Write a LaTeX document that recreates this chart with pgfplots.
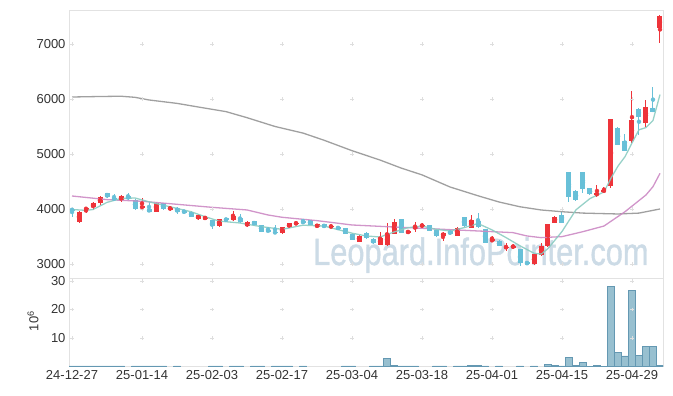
\documentclass[border=0pt]{standalone}
\usepackage{pgfplots}
\pgfplotsset{compat=1.18}
\usepackage{pgfplotstable}
\usepackage{fontspec}
\setmainfont{Liberation Sans}
\newfontfamily\wmfont[FakeBold=1.2]{Liberation Sans}
\definecolor{upred}{RGB}{238,52,58}
\definecolor{dnblue}{RGB}{104,192,216}
\definecolor{volfill}{RGB}{152,192,208}
\definecolor{voledge}{RGB}{100,152,178}
\definecolor{framegray}{RGB}{226,226,226}
\definecolor{crossgray}{RGB}{222,222,222}
\definecolor{labelgray}{RGB}{51,51,51}
\definecolor{wmark}{RGB}{204,219,230}
\definecolor{magray}{RGB}{150,150,150}
\definecolor{mapink}{RGB}{204,138,196}
\definecolor{mateal}{RGB}{140,204,194}

\pgfplotstableread{
i o h l c
1 3769 3960 3740 3951
2 3995 4024 3922 4013
3 4031 4127 3982 4115
4 4103 4227 4073 4212
7 4164 4254 4127 4236
10 4013 4200 4000 4055
12 3951 4127 3945 4115
14 3982 4055 3964 4042
18 3813 3900 3800 3891
19 3813 3873 3800 3860
21 3682 3824 3673 3811
23 3791 3969 3782 3873
25 3682 3773 3664 3764
30 3570 3673 3540 3667
31 3667 3745 3655 3740
32 3735 3769 3709 3745
35 3667 3733 3655 3722
37 3673 3700 3664 3691
41 3406 3518 3400 3509
44 3345 3587 3336 3467
45 3336 3751 3327 3558
46 3545 3815 3536 3758
48 3558 3613 3550 3605
49 3631 3769 3588 3691
50 3678 3751 3649 3715
53 3500 3576 3409 3570
55 3515 3667 3509 3661
57 3660 3885 3655 3800
60 3415 3515 3409 3445
62 3298 3376 3242 3308
63 3310 3358 3273 3320
66 2991 3182 2982 3176
67 3158 3387 3145 3327
68 3318 3727 3309 3722
69 3751 3864 3745 3855
75 4255 4436 4218 4285
76 4322 4394 4309 4336
77 4424 5645 4376 5636
80 5242 6145 5194 5618
82 5558 5982 5497 5848
84 7285 7518 7012 7509
}\up

\pgfplotstableread{
i o h l c
0 4000 4040 3850 3970
5 4285 4290 4200 4224
6 4195 4267 4164 4176
8 4236 4296 4164 4182
9 4164 4173 3990 3995
11 3995 4133 3940 3951
13 4103 4109 3990 3995
15 4024 4036 3909 3951
16 3969 3982 3918 3933
17 3951 3964 3845 3860
20 3791 3800 3631 3682
22 3827 3836 3773 3791
24 3834 3909 3745 3755
26 3776 3782 3700 3715
27 3704 3709 3582 3587
28 3618 3678 3576 3587
29 3587 3709 3545 3558
33 3773 3824 3736 3745
34 3791 3800 3709 3715
36 3718 3727 3655 3667
38 3678 3691 3618 3631
39 3649 3655 3536 3545
40 3545 3555 3427 3436
42 3564 3573 3455 3467
43 3455 3464 3364 3373
47 3815 3818 3555 3564
51 3700 3709 3600 3606
52 3618 3627 3495 3504
54 3606 3613 3527 3536
56 3845 3849 3678 3685
58 3787 3927 3660 3667
59 3627 3636 3376 3385
61 3418 3427 3318 3333
64 3267 3273 2970 3012
65 3042 3049 2982 2994
70 3891 3951 3742 3751
71 4667 4673 4133 4224
72 4318 4345 4145 4155
73 4667 4673 4285 4364
74 4376 4382 4255 4267
78 5479 5491 5155 5164
79 5236 5364 5051 5061
81 5818 5827 5345 5678
83 5830 6212 5764 5770
}\down

\pgfplotstableread{
i v
0 0.2
1 0.2
2 0.2
3 0.2
4 0.2
5 0.2
6 0.2
7 0.2
9 0.2
10 0.2
11 0.2
12 0.2
13 0.2
15 0.2
20 0.2
21 0.2
23 0.2
24 0.2
26 0.2
27 0.2
29 0.2
30 0.2
31 0.2
33 0.2
39 0.2
40 0.2
43 0.2
44 0.2
45 2.9
46 0.4
47 0.2
48 0.2
49 0.2
52 0.2
53 0.2
55 0.2
56 0.2
57 0.4
58 0.4
59 0.2
61 0.2
64 0.2
66 0.2
68 0.8
69 0.4
70 0.2
71 3.2
72 0.4
73 1.5
74 0.1
75 0.4
76 0.1
77 28.2
78 5.0
79 3.7
80 26.8
81 4.0
82 7.1
83 7.1
84 0.4
}\vol

\pgfplotstableread{
i m
0 6036
4 6045
7 6050
9 6030
11 5982
15 5920
18 5855
22 5770
25 5660
29 5500
33 5380
36 5250
40 5060
44 4890
47 4745
50 4620
54 4400
58 4240
61 4127
64 4040
67 3982
70 3950
73 3925
78 3909
81 3925
84 4000
}\magr

\pgfplotstableread{
i m
0 4236
5 4170
10 4140
15 4085
20 4030
25 3982
28 3891
30 3849
35 3788
40 3709
45 3678
50 3649
55 3618
60 3588
63 3570
65 3509
67 3479
70 3497
73 3588
76 3690
79 3950
82 4255
83 4406
84 4648
}\mapk

\pgfplotstableread{
i m
0 3990
2 3975
3 3990
5 4120
7 4190
9 4200
11 4130
13 4070
15 4010
17 3950
19 3860
21 3780
24 3745
27 3680
30 3630
33 3705
36 3690
40 3560
42 3510
44 3490
46 3580
48 3660
50 3690
52 3630
54 3600
56 3660
58 3735
60 3620
62 3480
64 3330
66 3195
67 3180
68 3280
70 3590
72 3985
74 4190
76 4310
77 4560
78 4780
79 4950
80 5200
81 5440
82 5480
83 5610
84 6080
}\mate

\begin{document}
\begin{tikzpicture}
\path[use as bounding box] (0pt,0pt) rectangle (673pt,396pt);
\node[anchor=base west, text=wmark, font=\wmfont\fontsize{38}{38}\selectfont, xscale=0.81, inner sep=0pt] at (313pt,131pt) {Leopard.InfoPointer.com};

\begin{axis}[
  at={(69pt,118pt)}, anchor=south west, scale only axis,
  width=594pt, height=268pt,
  xmin=-0.43, xmax=84.43, ymin=2745, ymax=7618,
  axis line style={draw=framegray},
  xtick={0,10,...,80}, xticklabels={},
  ytick={3000,4000,5000,6000,7000},
  yticklabels={3000,4000,5000,6000,7000},
  major tick length=0pt,
  tick label style={font=\fontsize{13}{13}\selectfont, text=labelgray},
]
\addplot[only marks, mark=+, mark size=1.8pt, color=crossgray, forget plot] coordinates {
(0,3000)(10,3000)(20,3000)(30,3000)(40,3000)(50,3000)(60,3000)(70,3000)(80,3000)
(0,4000)(10,4000)(20,4000)(30,4000)(40,4000)(50,4000)(60,4000)(70,4000)(80,4000)
(0,5000)(10,5000)(20,5000)(30,5000)(40,5000)(50,5000)(60,5000)(70,5000)(80,5000)
(0,6000)(10,6000)(20,6000)(30,6000)(40,6000)(50,6000)(60,6000)(70,6000)(80,6000)
(0,7000)(10,7000)(20,7000)(30,7000)(40,7000)(50,7000)(60,7000)(70,7000)(80,7000)
};
% wicks
\addplot[only marks, mark=none, color=upred, error bars/.cd, y dir=both, y explicit,
  error mark=none, error bar style={line width=1pt, draw=upred}]
  table[x=i, y expr={(\thisrow{h}+\thisrow{l})/2}, y error expr={(\thisrow{h}-\thisrow{l})/2}] {\up};
\addplot[only marks, mark=none, color=dnblue, error bars/.cd, y dir=both, y explicit,
  error mark=none, error bar style={line width=1pt, draw=dnblue}]
  table[x=i, y expr={(\thisrow{h}+\thisrow{l})/2}, y error expr={(\thisrow{h}-\thisrow{l})/2}] {\down};
% bodies
\addplot[only marks, mark=none, color=upred, error bars/.cd, y dir=both, y explicit,
  error mark=none, error bar style={line width=5pt, draw=upred}]
  table[x=i, y expr={(\thisrow{o}+\thisrow{c})/2}, y error expr={max(abs(\thisrow{c}-\thisrow{o})/2,10)}] {\up};
\addplot[only marks, mark=none, color=dnblue, error bars/.cd, y dir=both, y explicit,
  error mark=none, error bar style={line width=5pt, draw=dnblue}]
  table[x=i, y expr={(\thisrow{o}+\thisrow{c})/2}, y error expr={max(abs(\thisrow{c}-\thisrow{o})/2,10)}] {\down};
% moving averages
\addplot[color=magray, line width=1.3pt, opacity=0.9] table[x=i,y=m] {\magr};
\addplot[color=mapink, line width=1.3pt, opacity=0.9] table[x=i,y=m] {\mapk};
\addplot[color=mateal, line width=1.3pt, opacity=0.9] table[x=i,y=m] {\mate};
\end{axis}

\begin{axis}[
  at={(69pt,29.5pt)}, anchor=south west, scale only axis,
  width=594pt, height=88.5pt,
  xmin=-0.43, xmax=84.43, ymin=0, ymax=31.05,
  axis line style={draw=framegray},
  xtick={0,10,...,80},
  xticklabels={24-12-27,25-01-14,25-02-03,25-02-17,25-03-04,25-03-18,25-04-01,25-04-15,25-04-29},
  ytick={10,20,30}, yticklabels={10,20,30},
  major tick length=0pt,
  tick label style={font=\fontsize{13}{13}\selectfont, text=labelgray},
  ylabel={10\textsuperscript{6}},
  ylabel style={at={(axis description cs:-0.0606,0.514)}, anchor=center, font=\fontsize{13}{13}\selectfont, text=labelgray},
]
\addplot[only marks, mark=+, mark size=1.8pt, color=crossgray, forget plot] coordinates {
(0,10)(10,10)(20,10)(30,10)(40,10)(50,10)(60,10)(70,10)(80,10)
(0,20)(10,20)(20,20)(30,20)(40,20)(50,20)(60,20)(70,20)(80,20)
(0,30)(10,30)(20,30)(30,30)(40,30)(50,30)(60,30)(70,30)(80,30)
};
\addplot[ybar, bar shift=0pt, bar width=7pt, fill=volfill, draw=voledge, line width=0.6pt] table[x=i,y=v] {\vol};
\end{axis}
\end{tikzpicture}
\end{document}
